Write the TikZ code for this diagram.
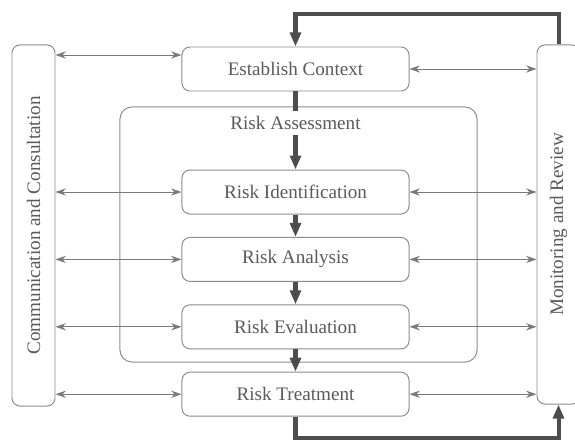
\documentclass[tikz,border=0pt]{standalone}
\usepackage{fontspec}
\setmainfont{Liberation Serif}
\usetikzlibrary{arrows.meta,positioning}

\definecolor{boxgray}{HTML}{8C8C8C}
\definecolor{txtgray}{HTML}{5A5A5A}
\definecolor{flowgray}{HTML}{4D4D4D}
\definecolor{linkgray}{HTML}{7A7A7A}

\begin{document}
\begin{tikzpicture}[x=0.025cm,y=-0.025cm,auto,font=\fontsize{13.6}{16}\selectfont,text=txtgray]
%        ______________________________
%       |                              |
%  C <-> ESTABLISH CONTEXT <-> M       |
%  o      | (assessment)       o       |
%  m <-> IDENTIFICATION    <-> n       |
%  m <-> ANALYSIS          <-> i       |
%  . <-> EVALUATION        <-> t  -----
%  . <-> TREATMENT         <-> .  <---
%         |______________________|
    \tikzstyle{procbox}=[draw=boxgray, line width=0.7pt, rounded corners=0.2cm, minimum width=5.675cm, minimum height=1.1cm]
    \tikzstyle{sidebox}=[draw=boxgray, line width=0.7pt, rounded corners=0.2cm, minimum height=1.075cm, rotate=90]
    \tikzstyle{flow}=[-{Triangle[length=0.35cm,width=0.27cm]}, line width=0.1cm, draw=flowgray]
    \tikzstyle{link}=[{Stealth[length=0.26cm,width=0.18cm]}-{Stealth[length=0.26cm,width=0.18cm]}, line width=0.7pt, draw=linkgray]

    \useasboundingbox (0,0) rectangle (575,441);

    % assessment frame
    \node[draw=boxgray, line width=0.7pt, rounded corners=0.3cm, minimum width=8.925cm, minimum height=6.375cm] (assess) at (298.5,234.5) {};

    % process steps
    \node[procbox] (ec) at (295.5,69) {Establish Context};
    \node (ralabel) at (295.5,123) {Risk Assessment};
    \node[procbox, below=1.95cm of ec] (ri) {Risk Identification};
    \node[procbox, below=0.56cm of ri] (ra) {Risk Analysis};
    \node[procbox, below=0.56cm of ra] (re) {Risk Evaluation};
    \node[procbox, below=0.56cm of re] (rt) {Risk Treatment};

    % side bars (rotated: south is the inner edge of comm, north of mon)
    \node[sidebox, minimum width=9.025cm] (comm) at (33.5,225.5) {Communication and Consultation};
    \node[sidebox, minimum width=8.975cm] (mon) at (558.5,224.5) {Monitoring and Review};

    \path[flow] (ec) edge[-] (ralabel)
                (ralabel) edge (ri)
                (ri) edge (ra)
                (ra) edge (re)
                (re) edge (rt);

    % feedback loop
    \draw[flow] (mon.east) -- ++(0,-30) -| (ec.north);
    \draw[flow] (rt.south) -- ++(0,21) -| (mon.west);

    % links to the side bars
    \coordinate (ecin) at ([yshift=0.35cm]ec.west);
    \draw[link] (comm.south |- ecin) -- (ecin);
    \draw[link] (ec.east) -- (mon.north |- ec.east);
    \foreach \s in {ri,ra,re,rt} {
        \draw[link] (comm.south |- \s.west) -- (\s.west);
        \draw[link] (\s.east) -- (mon.north |- \s.east);
    }
\end{tikzpicture}
\end{document}
